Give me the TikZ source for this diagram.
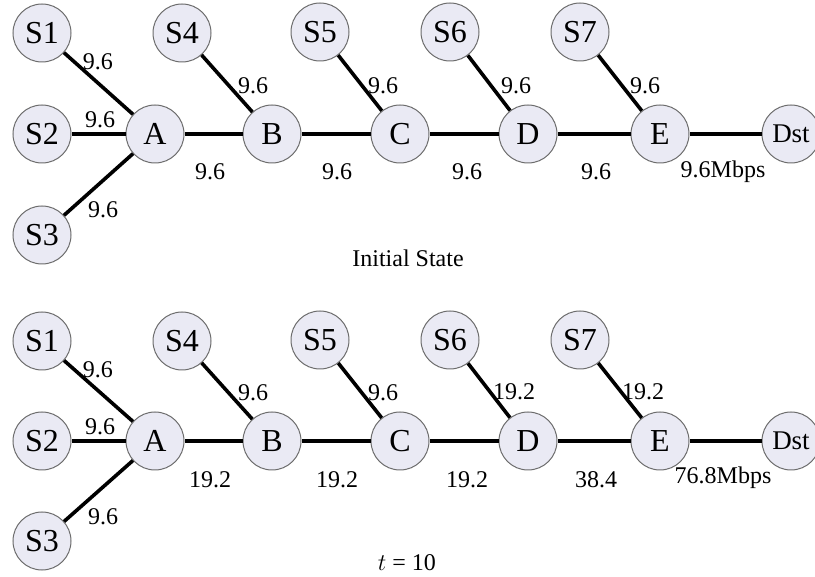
\documentclass[tikz,border=0pt]{standalone}
\usepackage{fontspec}
\setmainfont{Liberation Serif}
\usetikzlibrary{positioning}
\definecolor{nodefill}{RGB}{234,234,244}

\begin{document}
\begin{tikzpicture}[x=0.5pt,y=-0.5pt,
  every node/.style={font=\fontsize{12}{14}\selectfont},
  station/.style={circle,draw=gray!85!black,line width=0.5pt,fill=nodefill,
                  minimum size=29pt,inner sep=0pt,font=\fontsize{16}{18}\selectfont},
  sink/.style={station,font=\fontsize{13.5}{15}\selectfont},
  link/.style={line width=1.8pt},
  rate/.style={inner sep=0pt},
]
\useasboundingbox (0,0) rectangle (815,577);

% initial state
\node[station] (s1a) at (42,33)  {S1};
\node[station] (s2a) at (42,134) {S2};
\node[station] (s3a) at (42,235) {S3};
\node[station] (s4a) at (182,33) {S4};
\node[station] (s5a) at (320,32) {S5};
\node[station] (s6a) at (450,32) {S6};
\node[station] (s7a) at (580,32) {S7};
\node[station] (aa) at (155,134) {A};
\node[station] (ba) at (272,134) {B};
\node[station] (ca) at (400,134) {C};
\node[station] (da) at (528,134) {D};
\node[station] (ea) at (660,134) {E};
\node[sink] (dsta) at (791,134) {Dst};

\draw[link] (s1a) -- (aa);
\draw[link] (s2a) -- (aa);
\draw[link] (s3a) -- (aa);
\draw[link] (s4a) -- (ba);
\draw[link] (s5a) -- (ca);
\draw[link] (s6a) -- (da);
\draw[link] (s7a) -- (ea);
\draw[link] (aa) -- (ba);
\draw[link] (ba) -- (ca);
\draw[link] (ca) -- (da);
\draw[link] (da) -- (ea);
\draw[link] (ea) -- (dsta);

\node[rate] (r1a) at (98,62)  {9.6};
\node[rate] (r2a) at (100,120) {9.6};
\node[rate] (r3a) at (103,210) {9.6};
\node[rate] (r4a) at (253,86) {9.6};
\node[rate] (r5a) at (383,86) {9.6};
\node[rate] (r6a) at (516,86) {9.6};
\node[rate] (r7a) at (645,86) {9.6};
\node[rate] (rab) at (210,172) {9.6};
\node[rate] (rbc) at (337,172) {9.6};
\node[rate] (rcd) at (467,172) {9.6};
\node[rate] (rde) at (596,172) {9.6};
\node[rate] (red) at (723,172) {9.6Mbps};
\node (capa) at (408,258) {Initial State};

% t = 10
\node[station] (s1b) at (42,341)  {S1};
\node[station] (s2b) at (42,441) {S2};
\node[station] (s3b) at (42,541) {S3};
\node[station] (s4b) at (182,341) {S4};
\node[station] (s5b) at (320,340) {S5};
\node[station] (s6b) at (450,340) {S6};
\node[station] (s7b) at (580,340) {S7};
\node[station] (ab) at (155,441) {A};
\node[station] (bb) at (272,441) {B};
\node[station] (cb) at (400,441) {C};
\node[station] (db) at (528,441) {D};
\node[station] (eb) at (660,441) {E};
\node[sink] (dstb) at (791,441) {Dst};

\draw[link] (s1b) -- (ab);
\draw[link] (s2b) -- (ab);
\draw[link] (s3b) -- (ab);
\draw[link] (s4b) -- (bb);
\draw[link] (s5b) -- (cb);
\draw[link] (s6b) -- (db);
\draw[link] (s7b) -- (eb);
\draw[link] (ab) -- (bb);
\draw[link] (bb) -- (cb);
\draw[link] (cb) -- (db);
\draw[link] (db) -- (eb);
\draw[link] (eb) -- (dstb);

\node[rate] (r1b) at (98,370)  {9.6};
\node[rate] (r2b) at (100,427) {9.6};
\node[rate] (r3b) at (103,517) {9.6};
\node[rate] (r4b) at (253,393) {9.6};
\node[rate] (r5b) at (383,393) {9.6};
\node[rate] (r6b) at (514,392) {19.2};
\node[rate] (r7b) at (643,392) {19.2};
\node[rate] (rabb) at (210,480) {19.2};
\node[rate] (rbcb) at (337,480) {19.2};
\node[rate] (rcdb) at (467,480) {19.2};
\node[rate] (rdeb) at (596,480) {38.4};
\node[rate] (redb) at (723,478) {76.8Mbps};
\node (capb) at (407,563) {$t$ = 10};
\end{tikzpicture}
\end{document}
